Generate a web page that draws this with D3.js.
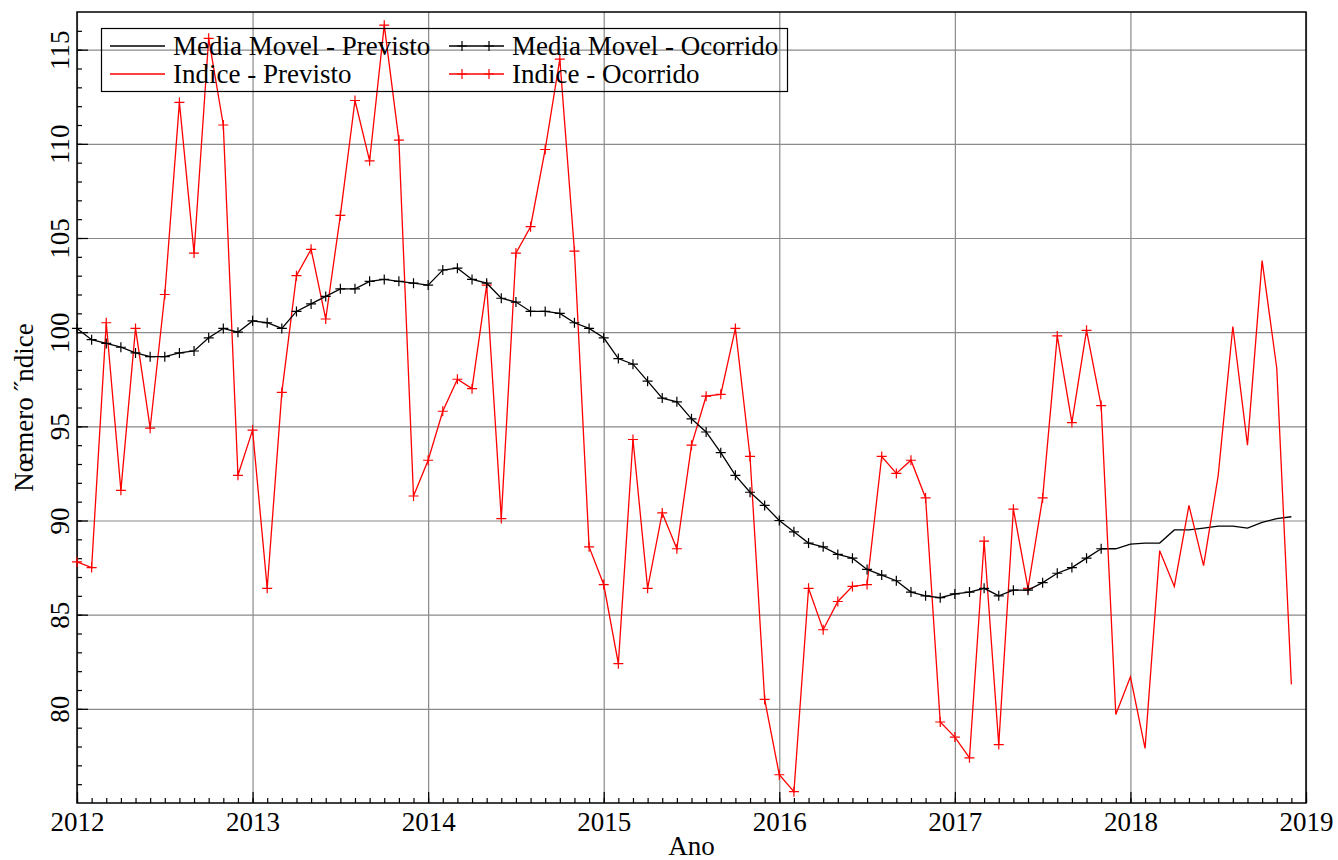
<!DOCTYPE html>
<html>
<head>
<meta charset="utf-8">
<script src="https://cdn.jsdelivr.net/npm/d3@7"></script>
<style>
    body { margin: 0; background: #fff; }
    svg { display: block; }
    text { font-family: "Liberation Serif", "DejaVu Serif", serif; fill: #000; }
</style>
</head>
<body>
<svg id="chart" width="1338" height="860"></svg>
<script>
// monthly values, first month = Jan 2012
let startYear = 2012;
let years = [2012, 2013, 2014, 2015, 2016, 2017, 2018, 2019];
let yTicks = [80, 85, 90, 95, 100, 105, 110, 115];

let indiceOcorrido = [
    87.8, 87.5, 100.5, 91.6, 100.2, 94.9, 102.0, 112.2, 104.2, 115.6, 111.0, 92.4,
    94.8, 86.4, 96.8, 103.0, 104.4, 100.7, 106.2, 112.3, 109.1, 116.3, 110.2, 91.3,
    93.2, 95.8, 97.5, 97.0, 102.5, 90.1, 104.2, 105.6, 109.7, 114.5, 104.3, 88.6,
    86.6, 82.4, 94.3, 86.4, 90.4, 88.5, 94.0, 96.6, 96.7, 100.2, 93.4, 80.5,
    76.5, 75.6, 86.4, 84.2, 85.7, 86.5, 86.6, 93.4, 92.5, 93.2, 91.2, 79.3,
    78.5, 77.4, 88.9, 78.1, 90.6, 86.4, 91.2, 99.8, 95.2, 100.1, 96.1,
];
let mediaOcorrido = [
    100.2, 99.6, 99.4, 99.2, 98.9, 98.7, 98.7, 98.9, 99.0, 99.7, 100.2, 100.0,
    100.6, 100.5, 100.2, 101.1, 101.5, 101.9, 102.3, 102.3, 102.7, 102.8, 102.7, 102.6,
    102.5, 103.3, 103.4, 102.8, 102.6, 101.8, 101.6, 101.1, 101.1, 101.0, 100.5, 100.2,
    99.7, 98.6, 98.3, 97.4, 96.5, 96.3, 95.4, 94.7, 93.6, 92.4, 91.5, 90.8,
    90.0, 89.4, 88.8, 88.6, 88.2, 88.0, 87.4, 87.1, 86.8, 86.2, 86.0, 85.9,
    86.1, 86.2, 86.4, 86.0, 86.3, 86.3, 86.7, 87.2, 87.5, 88.0, 88.5,
];
// forecasts start at the last observed month (Nov 2017)
let previstoStart = 70;
let indicePrevisto = [96.1, 79.7, 81.7, 77.9, 88.4, 86.5, 90.8, 87.6, 92.4, 100.3, 94.0, 103.8, 98.1, 81.3];
let mediaPrevisto = [88.5, 88.5, 88.75, 88.8, 88.8, 89.5, 89.5, 89.6, 89.7, 89.7, 89.6, 89.9, 90.1, 90.2];

let fontSize = "27px";

let svg = d3.select("#chart");
let margin = { left: 77, right: 32, top: 12, bottom: 57 };
let width = 1338 - margin.left - margin.right;
let height = 860 - margin.top - margin.bottom;

let g = svg.append("g").attr("transform", `translate(${margin.left},${margin.top})`);

let x = d3.scaleLinear().domain([2012, 2019]).range([0, width]);
let y = d3.scaleLinear().domain([75, 117]).range([height, 0]);

function toPoints(values, offset) {
    return values.map((v, i) => [startYear + (offset + i) / 12, v]);
}

// grid
g.append("g")
    .attr("class", "grid")
    .call(d3.axisBottom(x).tickValues(years).tickSize(height).tickFormat(""))
    .call(sel => sel.select(".domain").remove());
g.append("g")
    .attr("class", "grid")
    .call(d3.axisLeft(y).tickValues(yTicks).tickSize(-width).tickFormat(""))
    .call(sel => sel.select(".domain").remove());
g.selectAll(".grid line").attr("stroke", "#8a8a8a").attr("stroke-width", 1.2);

// minor ticks (inward)
let months = d3.range(0, 85).map(i => startYear + i / 12);
g.append("g")
    .attr("transform", `translate(0,${height})`)
    .call(d3.axisBottom(x).tickValues(months).tickSize(-5).tickFormat(""))
    .call(sel => sel.select(".domain").remove());
g.append("g")
    .call(d3.axisLeft(y).tickValues(d3.range(76, 117)).tickSize(-5).tickFormat(""))
    .call(sel => sel.select(".domain").remove());

// major ticks + labels
let xAxis = g.append("g")
    .attr("transform", `translate(0,${height})`)
    .call(d3.axisBottom(x).tickValues(years).tickSize(-11).tickPadding(0).tickFormat(d3.format("d")));
xAxis.select(".domain").remove();
xAxis.selectAll("text")
    .attr("y", 28)
    .attr("dy", 0)
    .style("font-size", fontSize)
    .style("font-family", "Liberation Serif, serif");

let yAxis = g.append("g")
    .call(d3.axisLeft(y).tickValues(yTicks).tickSize(-11).tickFormat(d3.format("d")));
yAxis.select(".domain").remove();
yAxis.selectAll("text")
    .attr("x", null)
    .attr("dy", null)
    .attr("transform", "translate(-8,0) rotate(-90)")
    .attr("text-anchor", "middle")
    .style("font-size", fontSize)
    .style("font-family", "Liberation Serif, serif");
g.selectAll(".tick line").filter(function () { return !this.closest(".grid"); })
    .attr("stroke", "#000").attr("stroke-width", 1.2);

// frame
g.append("rect")
    .attr("width", width).attr("height", height)
    .attr("fill", "none").attr("stroke", "#000").attr("stroke-width", 1.5);

// axis titles
svg.append("text")
    .attr("x", margin.left + width / 2).attr("y", 855)
    .attr("text-anchor", "middle")
    .style("font-size", fontSize)
    .text("Ano");
svg.append("text")
    .attr("transform", `translate(33,${margin.top + height / 2}) rotate(-90)`)
    .attr("text-anchor", "middle")
    .style("font-size", fontSize)
    .text("Nœmero ˝ndice");

// series
let line = d3.line().x(d => x(d[0])).y(d => y(d[1]));

let series = [
    { name: "Media Movel - Previsto", data: toPoints(mediaPrevisto, previstoStart), color: "#000", marker: false },
    { name: "Indice - Previsto", data: toPoints(indicePrevisto, previstoStart), color: "#ff0000", marker: false },
    { name: "Indice - Ocorrido", data: toPoints(indiceOcorrido, 0), color: "#ff0000", marker: true },
    { name: "Media Movel - Ocorrido", data: toPoints(mediaOcorrido, 0), color: "#000", marker: true },
];

function plusPath(cx, cy, r) {
    return `M${cx - r},${cy}H${cx + r}M${cx},${cy - r}V${cy + r}`;
}

let plot = g.append("g");
for (let s of series) {
    plot.append("path")
        .datum(s.data)
        .attr("fill", "none")
        .attr("stroke", s.color)
        .attr("stroke-width", 1.3)
        .attr("d", line);
    if (s.marker) {
        plot.append("path")
            .attr("fill", "none")
            .attr("stroke", s.color)
            .attr("stroke-width", 1.2)
            .attr("d", s.data.map(d => plusPath(x(d[0]), y(d[1]), 5)).join(""));
    }
}

// legend
let legendItems = [
    { name: "Media Movel - Previsto", color: "#000", marker: false, col: 0, row: 0 },
    { name: "Media Movel - Ocorrido", color: "#000", marker: true, col: 1, row: 0 },
    { name: "Indice - Previsto", color: "#ff0000", marker: false, col: 0, row: 1 },
    { name: "Indice - Ocorrido", color: "#ff0000", marker: true, col: 1, row: 1 },
];
let legend = svg.append("g");
legend.append("rect")
    .attr("x", 101.5).attr("y", 28.5).attr("width", 686).attr("height", 63)
    .attr("fill", "none").attr("stroke", "#000").attr("stroke-width", 1.2);
let colX = [110, 449];
for (let item of legendItems) {
    let lx = colX[item.col];
    let ly = 46 + item.row * 28;
    legend.append("line")
        .attr("x1", lx).attr("x2", lx + 55)
        .attr("y1", ly).attr("y2", ly)
        .attr("stroke", item.color).attr("stroke-width", 1.3);
    if (item.marker) {
        legend.append("path")
            .attr("stroke", item.color).attr("stroke-width", 1.2)
            .attr("d", plusPath(lx + 13, ly, 5) + plusPath(lx + 40, ly, 5));
    }
    legend.append("text")
        .attr("x", lx + 63).attr("y", ly + 8.5)
        .style("font-size", fontSize)
        .text(item.name);
}
</script>
</body>
</html>
